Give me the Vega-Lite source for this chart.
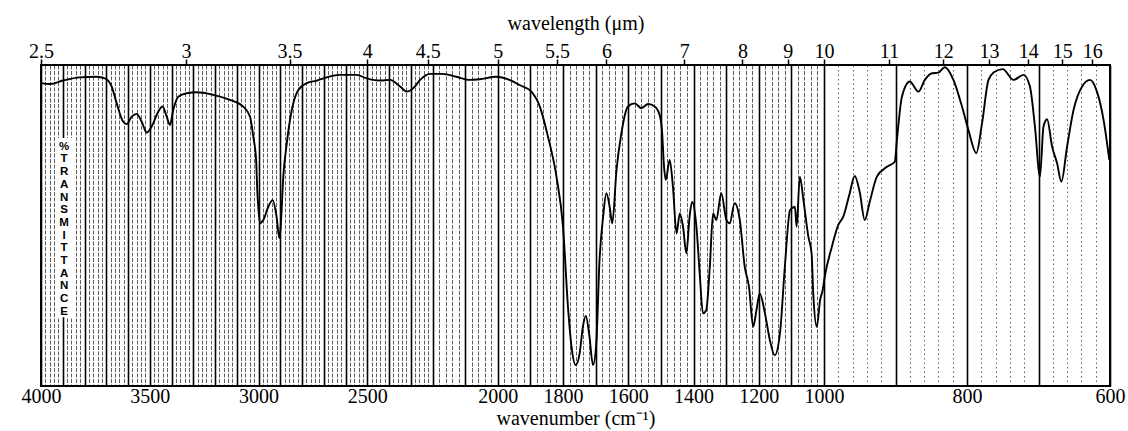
{
  "$schema": "https://vega.github.io/schema/vega-lite/v6.json",
  "width": 1069,
  "height": 321,
  "autosize": {"type": "none"},
  "padding": {"left": 41, "top": 65, "right": 18, "bottom": 45},
  "background": "white",
  "config": {"view": {"stroke": "black", "strokeWidth": 2}, "font": "Liberation Serif"},
  "data": {"values": [
    {"wavenumber": 4000, "transmittance": 94.9}, {"wavenumber": 3959, "transmittance": 94.6}, {"wavenumber": 3899, "transmittance": 95.7},
    {"wavenumber": 3821, "transmittance": 96.7}, {"wavenumber": 3744, "transmittance": 96.9}, {"wavenumber": 3706, "transmittance": 96.4},
    {"wavenumber": 3675, "transmittance": 93.8}, {"wavenumber": 3652, "transmittance": 88.5}, {"wavenumber": 3622, "transmittance": 82.7},
    {"wavenumber": 3606, "transmittance": 82.0}, {"wavenumber": 3583, "transmittance": 84.3}, {"wavenumber": 3560, "transmittance": 85.2},
    {"wavenumber": 3537, "transmittance": 82.7}, {"wavenumber": 3514, "transmittance": 79.3}, {"wavenumber": 3491, "transmittance": 81.2},
    {"wavenumber": 3461, "transmittance": 85.9}, {"wavenumber": 3441, "transmittance": 87.5}, {"wavenumber": 3422, "transmittance": 84.3},
    {"wavenumber": 3407, "transmittance": 81.7}, {"wavenumber": 3392, "transmittance": 86.4}, {"wavenumber": 3369, "transmittance": 90.6},
    {"wavenumber": 3330, "transmittance": 91.7}, {"wavenumber": 3284, "transmittance": 92.0}, {"wavenumber": 3208, "transmittance": 91.2},
    {"wavenumber": 3131, "transmittance": 89.6}, {"wavenumber": 3070, "transmittance": 87.5}, {"wavenumber": 3039, "transmittance": 84.3},
    {"wavenumber": 3024, "transmittance": 78.0}, {"wavenumber": 3011, "transmittance": 70.7}, {"wavenumber": 3005, "transmittance": 60.2},
    {"wavenumber": 3001, "transmittance": 55.9}, {"wavenumber": 2993, "transmittance": 50.7}, {"wavenumber": 2978, "transmittance": 51.7},
    {"wavenumber": 2955, "transmittance": 55.9}, {"wavenumber": 2935, "transmittance": 58.0}, {"wavenumber": 2917, "transmittance": 52.8},
    {"wavenumber": 2904, "transmittance": 46.0}, {"wavenumber": 2898, "transmittance": 49.6}, {"wavenumber": 2886, "transmittance": 65.4},
    {"wavenumber": 2870, "transmittance": 75.9}, {"wavenumber": 2847, "transmittance": 86.4}, {"wavenumber": 2817, "transmittance": 92.7},
    {"wavenumber": 2778, "transmittance": 94.9}, {"wavenumber": 2732, "transmittance": 95.7}, {"wavenumber": 2702, "transmittance": 96.4},
    {"wavenumber": 2625, "transmittance": 97.5}, {"wavenumber": 2549, "transmittance": 97.5}, {"wavenumber": 2503, "transmittance": 96.4},
    {"wavenumber": 2473, "transmittance": 95.9}, {"wavenumber": 2441, "transmittance": 95.7}, {"wavenumber": 2395, "transmittance": 95.9},
    {"wavenumber": 2349, "transmittance": 93.8}, {"wavenumber": 2318, "transmittance": 92.2}, {"wavenumber": 2288, "transmittance": 93.3},
    {"wavenumber": 2257, "transmittance": 95.9}, {"wavenumber": 2211, "transmittance": 97.8}, {"wavenumber": 2169, "transmittance": 97.8},
    {"wavenumber": 2127, "transmittance": 96.9}, {"wavenumber": 2086, "transmittance": 95.9}, {"wavenumber": 2056, "transmittance": 96.1},
    {"wavenumber": 2005, "transmittance": 96.9}, {"wavenumber": 1964, "transmittance": 95.9}, {"wavenumber": 1933, "transmittance": 94.3},
    {"wavenumber": 1897, "transmittance": 92.2}, {"wavenumber": 1871, "transmittance": 87.5}, {"wavenumber": 1846, "transmittance": 78.0},
    {"wavenumber": 1820, "transmittance": 65.4}, {"wavenumber": 1800, "transmittance": 49.6}, {"wavenumber": 1784, "transmittance": 23.3},
    {"wavenumber": 1774, "transmittance": 11.8}, {"wavenumber": 1761, "transmittance": 6.0}, {"wavenumber": 1749, "transmittance": 9.7},
    {"wavenumber": 1739, "transmittance": 18.1}, {"wavenumber": 1730, "transmittance": 21.5}, {"wavenumber": 1720, "transmittance": 16.0},
    {"wavenumber": 1708, "transmittance": 6.0}, {"wavenumber": 1698, "transmittance": 12.8}, {"wavenumber": 1688, "transmittance": 39.1},
    {"wavenumber": 1677, "transmittance": 52.8}, {"wavenumber": 1667, "transmittance": 60.2}, {"wavenumber": 1657, "transmittance": 55.9},
    {"wavenumber": 1649, "transmittance": 50.7}, {"wavenumber": 1636, "transmittance": 67.5}, {"wavenumber": 1621, "transmittance": 79.1},
    {"wavenumber": 1601, "transmittance": 87.5}, {"wavenumber": 1580, "transmittance": 88.5}, {"wavenumber": 1560, "transmittance": 87.0},
    {"wavenumber": 1539, "transmittance": 88.3}, {"wavenumber": 1519, "transmittance": 87.5}, {"wavenumber": 1504, "transmittance": 84.9},
    {"wavenumber": 1496, "transmittance": 79.1}, {"wavenumber": 1491, "transmittance": 69.6}, {"wavenumber": 1485, "transmittance": 64.4},
    {"wavenumber": 1473, "transmittance": 70.7}, {"wavenumber": 1463, "transmittance": 62.2}, {"wavenumber": 1452, "transmittance": 47.5},
    {"wavenumber": 1442, "transmittance": 53.8}, {"wavenumber": 1432, "transmittance": 49.6}, {"wavenumber": 1422, "transmittance": 41.2},
    {"wavenumber": 1412, "transmittance": 52.8}, {"wavenumber": 1404, "transmittance": 57.5}, {"wavenumber": 1391, "transmittance": 49.6},
    {"wavenumber": 1381, "transmittance": 34.9}, {"wavenumber": 1371, "transmittance": 22.3}, {"wavenumber": 1361, "transmittance": 23.3},
    {"wavenumber": 1350, "transmittance": 37.0}, {"wavenumber": 1340, "transmittance": 53.8}, {"wavenumber": 1330, "transmittance": 51.7},
    {"wavenumber": 1315, "transmittance": 60.2}, {"wavenumber": 1299, "transmittance": 51.7}, {"wavenumber": 1289, "transmittance": 50.7},
    {"wavenumber": 1274, "transmittance": 57.0}, {"wavenumber": 1258, "transmittance": 51.7}, {"wavenumber": 1243, "transmittance": 37.0},
    {"wavenumber": 1230, "transmittance": 30.7}, {"wavenumber": 1217, "transmittance": 18.1}, {"wavenumber": 1207, "transmittance": 23.3},
    {"wavenumber": 1197, "transmittance": 28.6}, {"wavenumber": 1181, "transmittance": 22.3}, {"wavenumber": 1166, "transmittance": 13.9},
    {"wavenumber": 1151, "transmittance": 9.1}, {"wavenumber": 1135, "transmittance": 16.0}, {"wavenumber": 1120, "transmittance": 37.0},
    {"wavenumber": 1104, "transmittance": 54.9}, {"wavenumber": 1089, "transmittance": 55.9}, {"wavenumber": 1084, "transmittance": 49.6},
    {"wavenumber": 1074, "transmittance": 65.4}, {"wavenumber": 1063, "transmittance": 58.0}, {"wavenumber": 1048, "transmittance": 46.5},
    {"wavenumber": 1038, "transmittance": 41.2}, {"wavenumber": 1033, "transmittance": 28.6}, {"wavenumber": 1022, "transmittance": 18.1},
    {"wavenumber": 1012, "transmittance": 26.5}, {"wavenumber": 1004, "transmittance": 29.7}, {"wavenumber": 999, "transmittance": 33.8},
    {"wavenumber": 989, "transmittance": 43.3}, {"wavenumber": 980, "transmittance": 50.2}, {"wavenumber": 973, "transmittance": 52.8},
    {"wavenumber": 964, "transmittance": 60.2}, {"wavenumber": 957, "transmittance": 65.6}, {"wavenumber": 950, "transmittance": 60.5},
    {"wavenumber": 943, "transmittance": 51.7}, {"wavenumber": 936, "transmittance": 57.5}, {"wavenumber": 926, "transmittance": 65.4},
    {"wavenumber": 912, "transmittance": 68.5}, {"wavenumber": 901, "transmittance": 70.1}, {"wavenumber": 898, "transmittance": 77.0},
    {"wavenumber": 891, "transmittance": 90.6}, {"wavenumber": 880, "transmittance": 95.4}, {"wavenumber": 868, "transmittance": 92.2},
    {"wavenumber": 859, "transmittance": 95.9}, {"wavenumber": 849, "transmittance": 98.0}, {"wavenumber": 840, "transmittance": 98.2},
    {"wavenumber": 831, "transmittance": 99.9}, {"wavenumber": 819, "transmittance": 95.9}, {"wavenumber": 807, "transmittance": 87.5},
    {"wavenumber": 798, "transmittance": 80.1}, {"wavenumber": 787, "transmittance": 72.8}, {"wavenumber": 779, "transmittance": 82.2},
    {"wavenumber": 770, "transmittance": 95.9}, {"wavenumber": 763, "transmittance": 98.2}, {"wavenumber": 750, "transmittance": 99.3},
    {"wavenumber": 735, "transmittance": 95.9}, {"wavenumber": 721, "transmittance": 97.5}, {"wavenumber": 712, "transmittance": 93.8},
    {"wavenumber": 705, "transmittance": 81.2}, {"wavenumber": 698, "transmittance": 65.4}, {"wavenumber": 693, "transmittance": 81.2},
    {"wavenumber": 688, "transmittance": 83.5}, {"wavenumber": 681, "transmittance": 74.9}, {"wavenumber": 674, "transmittance": 69.6},
    {"wavenumber": 668, "transmittance": 63.8}, {"wavenumber": 660, "transmittance": 74.9}, {"wavenumber": 651, "transmittance": 86.4},
    {"wavenumber": 639, "transmittance": 93.8}, {"wavenumber": 628, "transmittance": 95.9}, {"wavenumber": 619, "transmittance": 92.7},
    {"wavenumber": 609, "transmittance": 83.3}, {"wavenumber": 601, "transmittance": 70.7}
  ]},
  "layer": [
    {
      "data": {"values": [{"label": "%TRANSMITTANCE"}]},
      "mark": {"type": "rule", "stroke": "white", "strokeWidth": 18, "strokeCap": "butt"},
      "encoding": {
        "x": {"datum": 3894, "type": "quantitative", "axis": null, "scale": {"domain": [4000, 2200, 1000, 600], "range": [0, 391.5, 783, 1069], "nice": false, "zero": false}},
        "y": {"datum": 77.6, "type": "quantitative", "axis": null, "scale": {"domain": [-0.6, 100.6], "nice": false, "zero": false}},
        "y2": {"datum": 21.1}
      }
    },
    {
      "data": {"values": [{"label": "%TRANSMITTANCE"}]},
      "mark": {"type": "text", "font": "Liberation Sans", "fontWeight": "bold", "fontSize": 11.5, "lineHeight": 12.7, "align": "center", "baseline": "top", "color": "black"},
      "encoding": {
        "x": {"datum": 3894, "type": "quantitative", "axis": null, "scale": {"domain": [4000, 2200, 1000, 600], "range": [0, 391.5, 783, 1069], "nice": false, "zero": false}},
        "y": {"datum": 76.7, "type": "quantitative", "axis": null, "scale": {"domain": [-0.6, 100.6], "nice": false, "zero": false}},
        "text": {"value": ["%", "T", "R", "A", "N", "S", "M", "I", "T", "T", "A", "N", "C", "E"]}
      }
    },
    {
      "mark": {"type": "rule", "strokeOpacity": 0},
      "encoding": {
        "x": {
          "field": "wavenumber", "type": "quantitative",
          "scale": {"domain": [4000, 2200, 1000, 600], "range": [0, 391.5, 783, 1069], "nice": false, "zero": false},
          "axis": {
            "orient": "top",
            "values": [4000, 3333.333, 2857.143, 2500, 2222.222, 2000, 1818.182, 1666.667, 1428.571, 1250, 1111.111, 1000, 909.091, 833.333, 769.231, 714.286, 666.667, 625],
            "labelExpr": "'' + round(100000 / datum.value) / 10",
            "grid": false, "domain": false,
            "ticks": true, "tickSize": 6, "tickColor": "black", "tickWidth": 1.5,
            "labelFont": "Liberation Serif", "labelFontSize": 20, "labelColor": "black",
            "labelBaseline": "alphabetic", "labelPadding": 2,
            "labelOverlap": false, "labelFlush": false, "labelBound": false,
            "title": "wavelength (μm)", "titleFont": "Liberation Serif", "titleFontSize": 20,
            "titleFontWeight": "normal", "titleColor": "black",
            "titleBaseline": "alphabetic", "titleY": -36
          }
        }
      }
    },
    {
      "mark": {"type": "line", "color": "black", "strokeWidth": 1.9, "interpolate": "monotone"},
      "encoding": {
        "x": {
          "field": "wavenumber", "type": "quantitative",
          "scale": {"domain": [4000, 2200, 1000, 600], "range": [0, 391.5, 783, 1069], "nice": false, "zero": false},
          "axis": {
            "orient": "bottom",
            "values": [600,620,640,660,680,700,720,740,760,780,800,820,840,860,880,900,920,940,960,980,1000,1020,1040,1060,1080,1100,1120,1140,1160,1180,1200,1220,1240,1260,1280,1300,1320,1340,1360,1380,1400,1420,1440,1460,1480,1500,1520,1540,1560,1580,1600,1620,1640,1660,1680,1700,1720,1740,1760,1780,1800,1820,1840,1860,1880,1900,1920,1940,1960,1980,2000,2020,2040,2060,2080,2100,2120,2140,2160,2180,2200,2220,2240,2260,2280,2300,2320,2340,2360,2380,2400,2420,2440,2460,2480,2500,2520,2540,2560,2580,2600,2620,2640,2660,2680,2700,2720,2740,2760,2780,2800,2820,2840,2860,2880,2900,2920,2940,2960,2980,3000,3020,3040,3060,3080,3100,3120,3140,3160,3180,3200,3220,3240,3260,3280,3300,3320,3340,3360,3380,3400,3420,3440,3460,3480,3500,3520,3540,3560,3580,3600,3620,3640,3660,3680,3700,3720,3740,3760,3780,3800,3820,3840,3860,3880,3900,3920,3940,3960,3980,4000],
            "format": "d",
            "labelExpr": "indexof([4000,3500,3000,2500,2000,1800,1600,1400,1200,1000,800,600], datum.value) >= 0 ? datum.label : ''",
            "grid": true,
            "gridColor": "black",
            "gridWidth": {"condition": {"test": "datum.value % 100 == 0", "value": 1.6}, "value": 0.9},
            "gridDash": {"condition": [{"test": "datum.value % 100 == 0", "value": []}, {"test": "datum.value < 1000", "value": [1.5, 3]}], "value": [4, 1.5]},
            "gridOpacity": {"condition": {"test": "datum.value % 100 == 0", "value": 1}, "value": 0.7},
            "domain": false, "ticks": false,
            "labelFont": "Liberation Serif", "labelFontSize": 20, "labelColor": "black",
            "labelPadding": 0, "labelOverlap": false, "labelFlush": false, "labelBound": false,
            "title": "wavenumber (cm⁻¹)", "titleFont": "Liberation Serif", "titleFontSize": 20,
            "titleFontWeight": "normal", "titleColor": "black", "titlePadding": 2
          }
        },
        "y": {
          "field": "transmittance", "type": "quantitative",
          "scale": {"domain": [-0.6, 100.6], "nice": false, "zero": false},
          "axis": {
            "values": [0, 20, 40, 60, 80, 100],
            "grid": false, "ticks": false, "domain": false,
            "labelFont": "Liberation Serif", "labelFontSize": 20, "labelColor": "black",
            "labelPadding": 3, "title": null
          }
        }
      }
    }
  ],
  "resolve": {"axis": {"x": "independent"}}
}
